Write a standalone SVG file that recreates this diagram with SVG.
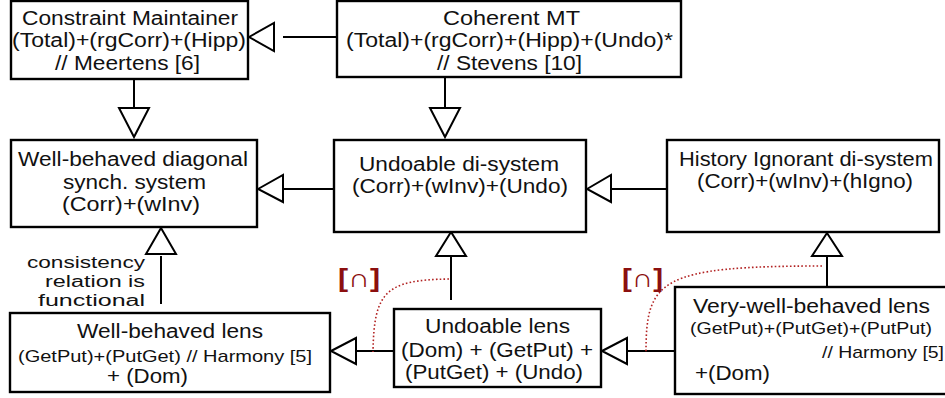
<svg xmlns="http://www.w3.org/2000/svg" width="945" height="398" viewBox="0 0 945 398">
<style>
.box{fill:#fff;stroke:#000;stroke-width:2.4}
.t{font-family:"Liberation Sans",Arial,sans-serif;font-size:19.5px;fill:#111}
.s{font-size:17px}
.c{font-size:16px}
.ln{stroke:#000;stroke-width:2;fill:none}
.tri{fill:#fff;stroke:#000;stroke-width:2;stroke-linejoin:miter}
.dot{fill:none;stroke:#b22222;stroke-width:1.6;stroke-dasharray:1.6 2.2}
.cap{font-family:"Liberation Sans","DejaVu Sans",sans-serif;font-size:26px;font-weight:bold;fill:#8b0f0f}
</style>
<rect width="945" height="398" fill="#fff"/>
<g id="connectors">
  <line class="ln" x1="283" y1="37" x2="337" y2="37"/>
  <polygon class="tri" points="249,37 274,23 274,51"/>
  <line class="ln" x1="134" y1="79" x2="134" y2="108"/>
  <polygon class="tri" points="134,137 119,108 149,108"/>
  <line class="ln" x1="445" y1="77" x2="445" y2="108"/>
  <polygon class="tri" points="445,137 430,108 460,108"/>
  <line class="ln" x1="283" y1="189" x2="334" y2="189"/>
  <polygon class="tri" points="258,189 283,175 283,202"/>
  <line class="ln" x1="611" y1="189" x2="667" y2="189"/>
  <polygon class="tri" points="587,189 611,175 611,202"/>
  <line class="ln" x1="161" y1="256" x2="161" y2="304"/>
  <polygon class="tri" points="161,228 146,254 176,254"/>
  <line class="ln" x1="451" y1="256" x2="451" y2="300"/>
  <polygon class="tri" points="451,232 436,256 466,256"/>
  <line class="ln" x1="827" y1="256" x2="827" y2="287"/>
  <polygon class="tri" points="827,233 812,256 842,256"/>
  <line class="ln" x1="627" y1="351" x2="675" y2="351"/>
  <polygon class="tri" points="602,351 627,338 627,364"/>
  <line class="ln" x1="356" y1="351" x2="394" y2="351"/>
  <polygon class="tri" points="331,351 356,338 356,364"/>
  <path class="dot" d="M449,279 C385,280 374,292 373,352"/>
  <path class="dot" d="M822,266 C660,266 646,280 646,352"/>
  <text class="cap" x="338" y="287" textLength="42" lengthAdjust="spacingAndGlyphs">[∩]</text>
  <text class="cap" x="622" y="287" textLength="41" lengthAdjust="spacingAndGlyphs">[∩]</text>
  <text class="t c" x="27" y="268" textLength="118" lengthAdjust="spacingAndGlyphs">consistency</text>
  <text class="t c" x="45" y="287" textLength="100" lengthAdjust="spacingAndGlyphs">relation is</text>
  <text class="t c" x="38" y="306" textLength="107" lengthAdjust="spacingAndGlyphs">functional</text>
</g>
<g id="constraint-maintainer">
  <rect class="box" x="11" y="1" width="237" height="78"/>
  <text class="t" x="22" y="25" textLength="216" lengthAdjust="spacingAndGlyphs">Constraint Maintainer</text>
  <text class="t" x="12" y="47" textLength="234" lengthAdjust="spacingAndGlyphs">(Total)+(rgCorr)+(Hipp)</text>
  <text class="t" x="55" y="70" textLength="145" lengthAdjust="spacingAndGlyphs">// Meertens [6]</text>
</g>
<g id="coherent-mt">
  <rect class="box" x="337" y="1" width="344" height="76"/>
  <text class="t" x="443" y="25" textLength="137" lengthAdjust="spacingAndGlyphs">Coherent MT</text>
  <text class="t" x="346" y="47" textLength="327" lengthAdjust="spacingAndGlyphs">(Total)+(rgCorr)+(Hipp)+(Undo)*</text>
  <text class="t" x="437" y="70" textLength="145" lengthAdjust="spacingAndGlyphs">// Stevens [10]</text>
</g>
<g id="well-behaved-diagonal">
  <rect class="box" x="11" y="140" width="246" height="87"/>
  <text class="t" x="18" y="166" textLength="230" lengthAdjust="spacingAndGlyphs">Well-behaved diagonal</text>
  <text class="t" x="63" y="189" textLength="143" lengthAdjust="spacingAndGlyphs">synch. system</text>
  <text class="t" x="62" y="211" textLength="138" lengthAdjust="spacingAndGlyphs">(Corr)+(wInv)</text>
</g>
<g id="undoable-di-system">
  <rect class="box" x="334" y="140" width="252" height="92"/>
  <text class="t" x="359" y="171" textLength="200" lengthAdjust="spacingAndGlyphs">Undoable di-system</text>
  <text class="t" x="352" y="193" textLength="216" lengthAdjust="spacingAndGlyphs">(Corr)+(wInv)+(Undo)</text>
</g>
<g id="history-ignorant">
  <rect class="box" x="667" y="140" width="272" height="92"/>
  <text class="t" x="679" y="166" textLength="254" lengthAdjust="spacingAndGlyphs">History Ignorant di-system</text>
  <text class="t" x="697" y="188" textLength="216" lengthAdjust="spacingAndGlyphs">(Corr)+(wInv)+(hIgno)</text>
</g>
<g id="very-well-behaved-lens">
  <rect class="box" x="675" y="287" width="275" height="107"/>
  <text class="t" x="693" y="313" textLength="237" lengthAdjust="spacingAndGlyphs">Very-well-behaved lens</text>
  <text class="t s" x="690" y="334" textLength="242" lengthAdjust="spacingAndGlyphs">(GetPut)+(PutGet)+(PutPut)</text>
  <text class="t s" x="822" y="358" textLength="122" lengthAdjust="spacingAndGlyphs">// Harmony [5]</text>
  <text class="t" x="695" y="380" textLength="75" lengthAdjust="spacingAndGlyphs">+(Dom)</text>
</g>
<g id="undoable-lens">
  <rect class="box" x="394" y="309" width="207" height="78"/>
  <text class="t" x="425" y="333" textLength="145" lengthAdjust="spacingAndGlyphs">Undoable lens</text>
  <text class="t" x="401" y="357" textLength="192" lengthAdjust="spacingAndGlyphs">(Dom) + (GetPut) +</text>
  <text class="t" x="405" y="379" textLength="178" lengthAdjust="spacingAndGlyphs">(PutGet) + (Undo)</text>
</g>
<g id="well-behaved-lens">
  <rect class="box" x="10" y="313" width="320" height="79"/>
  <text class="t" x="77" y="338" textLength="186" lengthAdjust="spacingAndGlyphs">Well-behaved lens</text>
  <text class="t s" x="18" y="362" textLength="294" lengthAdjust="spacingAndGlyphs">(GetPut)+(PutGet)  // Harmony [5]</text>
  <text class="t" x="107" y="383" textLength="81" lengthAdjust="spacingAndGlyphs">+ (Dom)</text>
</g>
</svg>
